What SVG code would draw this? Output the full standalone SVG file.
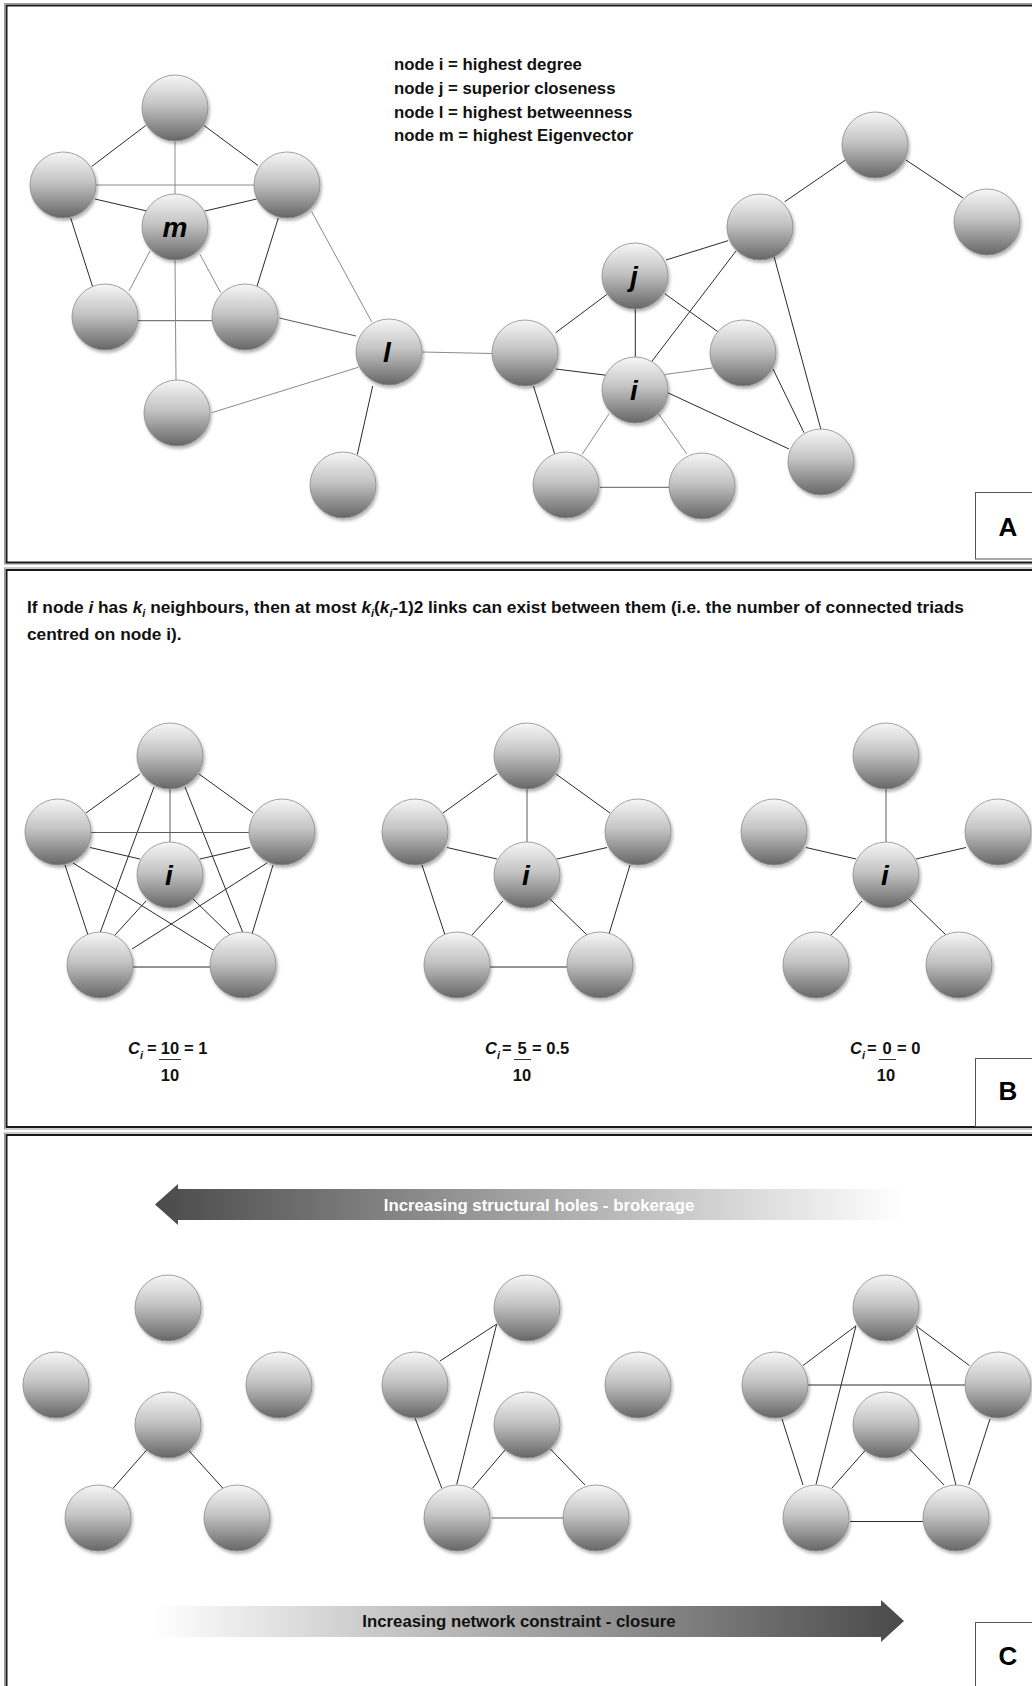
<svg xmlns="http://www.w3.org/2000/svg" width="1032" height="1686" viewBox="0 0 1032 1686">
<style>
.pan{fill:none;stroke:#1a1a1a;stroke-width:2}
.pan2{fill:none;stroke:#9a9a9a;stroke-width:1}
.n{fill:url(#ng);stroke:#8c8c8c;stroke-width:0.8;filter:url(#sh)}
.e{stroke:#2a2a2a;stroke-width:1;fill:none}
.g{stroke:#8a8a8a;stroke-width:1;fill:none}
.m{stroke:#5a5a5a;stroke-width:1;fill:none}
.lbl{font-family:"Liberation Sans",Arial,sans-serif;font-weight:bold;font-style:italic;font-size:28px;text-anchor:middle;fill:#000}
.t{font-family:"Liberation Sans",Arial,sans-serif;font-weight:bold;font-size:16.8px;fill:#111}
.tb{font-size:17.3px}
.f{font-family:"Liberation Sans",Arial,sans-serif;font-weight:bold;font-size:16.5px;fill:#111}
.fm{text-anchor:middle}
.it{font-style:italic}
.sub{font-size:11px;font-style:italic}
.box{fill:#fff;stroke:#555;stroke-width:1}
.bl{font-family:"Liberation Sans",Arial,sans-serif;font-weight:bold;font-size:26px;text-anchor:middle;fill:#000}
</style>
<defs>
<linearGradient id="ng" x1="0" y1="0" x2="0" y2="1">
<stop offset="0" stop-color="#f6f6f6"/>
<stop offset="0.45" stop-color="#c4c4c4"/>
<stop offset="1" stop-color="#666"/>
</linearGradient>
<filter id="sh" x="-30%" y="-30%" width="160%" height="160%">
<feDropShadow dx="1.5" dy="2.5" stdDeviation="1.8" flood-color="#000" flood-opacity="0.3"/>
</filter>
<linearGradient id="ga1" gradientUnits="userSpaceOnUse" x1="155" y1="0" x2="903" y2="0">
<stop offset="0" stop-color="#4a4a4a"/>
<stop offset="1" stop-color="#ffffff"/>
</linearGradient>
<linearGradient id="ga2" gradientUnits="userSpaceOnUse" x1="153" y1="0" x2="904" y2="0">
<stop offset="0" stop-color="#ffffff"/>
<stop offset="1" stop-color="#4a4a4a"/>
</linearGradient>
</defs>
<rect width="1032" height="1686" fill="#fff"/>

<g id="panels">
<rect class="pan2" x="4.5" y="3.5" width="1100" height="560.5"/>
<rect class="pan" x="6.5" y="5.5" width="1100" height="557"/>
<rect class="pan2" x="4.5" y="568" width="1100" height="561"/>
<rect class="pan" x="6.5" y="570" width="1100" height="557"/>
<rect class="pan2" x="4.5" y="1133" width="1100" height="600"/>
<rect class="pan" x="6.5" y="1135" width="1100" height="600"/>
</g>

<g id="connectors">
<!-- panel A left cluster -->
<line class="e" x1="91.7" y1="166.5" x2="145.7" y2="125.5"/>
<line class="e" x1="204" y1="125.5" x2="258" y2="165.5"/>
<line class="g" x1="175" y1="142" x2="175" y2="194"/>
<line class="g" x1="96" y1="185" x2="254" y2="185"/>
<line class="e" x1="95" y1="199" x2="146.7" y2="211"/>
<line class="e" x1="256.7" y1="199" x2="205" y2="211"/>
<line class="e" x1="70.7" y1="218" x2="92.7" y2="287"/>
<line class="e" x1="278.3" y1="218" x2="256.7" y2="287.3"/>
<line class="g" x1="150" y1="251" x2="129" y2="291"/>
<line class="g" x1="200" y1="254.5" x2="220.7" y2="292.7"/>
<line class="m" x1="138" y1="320.7" x2="212" y2="320.7"/>
<line class="g" x1="175" y1="260" x2="176" y2="380"/>
<line class="g" x1="311.7" y1="211.6" x2="371.7" y2="321.8"/>
<line class="m" x1="279.3" y1="318" x2="356" y2="336"/>
<line class="g" x1="211.7" y1="412.7" x2="358.3" y2="367.3"/>
<line class="e" x1="372.7" y1="386" x2="357.3" y2="454.5"/>
<line class="g" x1="422" y1="352" x2="492" y2="353.5"/>
<!-- panel A right cluster -->
<line class="e" x1="555.7" y1="332.7" x2="606.8" y2="294.5"/>
<line class="e" x1="555.7" y1="369" x2="606.8" y2="375.3"/>
<line class="e" x1="533.5" y1="386" x2="554.6" y2="453.8"/>
<line class="e" x1="635.3" y1="309" x2="635.3" y2="357"/>
<line class="e" x1="666" y1="260" x2="728" y2="240.7"/>
<line class="e" x1="664.9" y1="293.8" x2="717.7" y2="331.6"/>
<line class="e" x1="651.5" y1="361.8" x2="736" y2="251"/>
<line class="g" x1="664.9" y1="374.5" x2="712.4" y2="368"/>
<line class="e" x1="667.7" y1="392.7" x2="789" y2="449"/>
<line class="g" x1="609" y1="413.8" x2="582" y2="454.5"/>
<line class="g" x1="658.5" y1="413.8" x2="686.7" y2="453.8"/>
<line class="m" x1="599.7" y1="487.3" x2="669" y2="487.3"/>
<line class="e" x1="784.6" y1="201.8" x2="845.5" y2="160"/>
<line class="e" x1="774" y1="256.4" x2="820.8" y2="429"/>
<line class="e" x1="773" y1="369" x2="804" y2="432.7"/>
<line class="e" x1="906" y1="160" x2="963" y2="198"/>
<!-- panel B graph 1 (complete) -->
<line class="e" x1="140" y1="774" x2="86" y2="813"/>
<line class="e" x1="199" y1="774" x2="253" y2="813"/>
<line class="m" x1="170" y1="789" x2="170" y2="842"/>
<line class="e" x1="154" y1="787" x2="100" y2="933"/>
<line class="e" x1="185" y1="787" x2="243" y2="933"/>
<line class="m" x1="91" y1="832.5" x2="249" y2="832.5"/>
<line class="e" x1="90" y1="847.5" x2="140" y2="859"/>
<line class="e" x1="250" y1="847.5" x2="200" y2="859"/>
<line class="e" x1="65" y1="865" x2="88" y2="935"/>
<line class="e" x1="273" y1="865" x2="252" y2="934"/>
<line class="e" x1="73" y1="863" x2="215" y2="951"/>
<line class="e" x1="267" y1="863" x2="132" y2="949"/>
<line class="e" x1="146" y1="901" x2="115" y2="935"/>
<line class="e" x1="193" y1="899" x2="230" y2="935"/>
<line class="e" x1="133" y1="967" x2="210" y2="967"/>
<!-- panel B graph 2 -->
<line class="e" x1="497" y1="774" x2="443" y2="813"/>
<line class="e" x1="556" y1="774" x2="610" y2="813"/>
<line class="m" x1="527" y1="789" x2="527" y2="842"/>
<line class="e" x1="447" y1="847.5" x2="497" y2="859"/>
<line class="e" x1="607" y1="847.5" x2="557" y2="859"/>
<line class="e" x1="422" y1="865" x2="445" y2="935"/>
<line class="e" x1="630" y1="865" x2="609" y2="934"/>
<line class="e" x1="503" y1="901" x2="472" y2="935"/>
<line class="e" x1="550" y1="899" x2="587" y2="935"/>
<line class="e" x1="490" y1="967" x2="567" y2="967"/>
<!-- panel B graph 3 -->
<line class="m" x1="886" y1="789" x2="886" y2="842"/>
<line class="e" x1="806" y1="847.5" x2="856" y2="859"/>
<line class="e" x1="966" y1="847.5" x2="916" y2="859"/>
<line class="e" x1="862" y1="901" x2="831" y2="935"/>
<line class="e" x1="909" y1="899" x2="946" y2="935"/>
<!-- panel C graph 1 -->
<line class="e" x1="146.7" y1="1450" x2="113.3" y2="1488"/>
<line class="e" x1="188.3" y1="1450" x2="222.7" y2="1488"/>
<!-- panel C graph 2 -->
<line class="e" x1="440" y1="1361" x2="496.7" y2="1324"/>
<line class="e" x1="496.7" y1="1324" x2="456.7" y2="1484.6"/>
<line class="e" x1="415" y1="1418" x2="441.7" y2="1488"/>
<line class="e" x1="505" y1="1450" x2="472.7" y2="1488"/>
<line class="e" x1="550.4" y1="1449" x2="585" y2="1485"/>
<line class="m" x1="491.7" y1="1518" x2="563.8" y2="1518"/>
<!-- panel C graph 3 -->
<line class="e" x1="856" y1="1325.8" x2="803" y2="1365.5"/>
<line class="e" x1="916" y1="1325.8" x2="969.4" y2="1365.5"/>
<line class="e" x1="856" y1="1325.8" x2="816" y2="1484.6"/>
<line class="e" x1="916.6" y1="1327.6" x2="956" y2="1485.3"/>
<line class="e" x1="808" y1="1385" x2="965" y2="1385"/>
<line class="e" x1="782" y1="1419" x2="803" y2="1485"/>
<line class="e" x1="990" y1="1419" x2="968.7" y2="1485"/>
<line class="e" x1="865.6" y1="1450" x2="832" y2="1488"/>
<line class="e" x1="909.6" y1="1449" x2="944" y2="1485"/>
<line class="e" x1="850" y1="1521.5" x2="923" y2="1521.5"/>
</g>

<!-- Panel A nodes -->
<g id="a-top"><circle class="n" cx="175" cy="108" r="33"/></g>
<g id="a-left"><circle class="n" cx="63" cy="185" r="33"/></g>
<g id="a-right"><circle class="n" cx="287" cy="185" r="33"/></g>
<g id="node-m"><circle class="n" cx="175" cy="227" r="33"/><text class="lbl" x="175" y="237">m</text></g>
<g id="a-lowleft"><circle class="n" cx="105" cy="317" r="33"/></g>
<g id="a-lowright"><circle class="n" cx="245" cy="317" r="33"/></g>
<g id="a-bottom"><circle class="n" cx="177" cy="413" r="33"/></g>
<g id="node-l"><circle class="n" cx="389" cy="352" r="33"/><text class="lbl" x="387" y="362">l</text></g>
<g id="a-lbottom"><circle class="n" cx="343" cy="485" r="33"/></g>
<g id="a-jleft"><circle class="n" cx="525" cy="353" r="33"/></g>
<g id="node-j"><circle class="n" cx="635" cy="276" r="33"/><text class="lbl" x="634" y="286">j</text></g>
<g id="node-i"><circle class="n" cx="635" cy="390" r="33"/><text class="lbl" x="634" y="400">i</text></g>
<g id="a-iright"><circle class="n" cx="743" cy="353" r="33"/></g>
<g id="a-upper"><circle class="n" cx="760" cy="227" r="33"/></g>
<g id="a-top2"><circle class="n" cx="875" cy="145" r="33"/></g>
<g id="a-farright"><circle class="n" cx="987" cy="222" r="33"/></g>
<g id="a-ibl"><circle class="n" cx="566" cy="485" r="33"/></g>
<g id="a-ibr"><circle class="n" cx="702" cy="486" r="33"/></g>
<g id="a-farlow"><circle class="n" cx="821" cy="462" r="33"/></g>

<g id="legend">
<text class="t" x="394" y="70">node i = highest degree</text>
<text class="t" x="394" y="94">node j = superior closeness</text>
<text class="t" x="394" y="118">node l = highest betweenness</text>
<text class="t" x="394" y="141">node m = highest Eigenvector</text>
</g>
<g id="label-a"><rect class="box" x="975.5" y="492.5" width="80" height="66.5"/><text class="bl" x="1008" y="536">A</text></g>

<!-- Panel B -->
<g id="b-text">
<text class="t tb" x="27" y="613">If node <tspan class="it">i</tspan> has <tspan class="it">k</tspan><tspan class="sub" dy="4">i</tspan><tspan dy="-4"> neighbours, then at most </tspan><tspan class="it">k</tspan><tspan class="sub" dy="4">i</tspan><tspan dy="-4">(</tspan><tspan class="it">k</tspan><tspan class="sub" dy="4">i</tspan><tspan dy="-4">-1)2 links can exist between them (i.e. the number of connected triads</tspan></text>
<text class="t tb" x="27" y="640">centred on node i).</text>
</g>
<g id="b1-top"><circle class="n" cx="170" cy="756" r="33"/></g>
<g id="b1-left"><circle class="n" cx="58" cy="832" r="33"/></g>
<g id="b1-right"><circle class="n" cx="282" cy="832" r="33"/></g>
<g id="b1-i"><circle class="n" cx="170" cy="875" r="33"/><text class="lbl" x="169" y="885">i</text></g>
<g id="b1-bl"><circle class="n" cx="100" cy="965" r="33"/></g>
<g id="b1-br"><circle class="n" cx="243" cy="965" r="33"/></g>

<g id="b2-top"><circle class="n" cx="527" cy="756" r="33"/></g>
<g id="b2-left"><circle class="n" cx="415" cy="832" r="33"/></g>
<g id="b2-right"><circle class="n" cx="638" cy="832" r="33"/></g>
<g id="b2-i"><circle class="n" cx="527" cy="875" r="33"/><text class="lbl" x="526" y="885">i</text></g>
<g id="b2-bl"><circle class="n" cx="457" cy="965" r="33"/></g>
<g id="b2-br"><circle class="n" cx="600" cy="965" r="33"/></g>

<g id="b3-top"><circle class="n" cx="886" cy="756" r="33"/></g>
<g id="b3-left"><circle class="n" cx="774" cy="832" r="33"/></g>
<g id="b3-right"><circle class="n" cx="998" cy="832" r="33"/></g>
<g id="b3-i"><circle class="n" cx="886" cy="875" r="33"/><text class="lbl" x="885" y="885">i</text></g>
<g id="b3-bl"><circle class="n" cx="816" cy="965" r="33"/></g>
<g id="b3-br"><circle class="n" cx="959" cy="965" r="33"/></g>

<g id="formula-1" class="f">
<text x="128" y="1054"><tspan class="it">C</tspan></text>
<text class="sub" x="140" y="1059">i</text>
<text x="147" y="1054">=</text>
<text class="fm" x="170" y="1054">10</text>
<line x1="159" y1="1059.5" x2="181" y2="1059.5" stroke="#333" stroke-width="1"/>
<text x="184" y="1054">= 1</text>
<text class="fm" x="170" y="1081">10</text>
</g>
<g id="formula-2" class="f">
<text x="485" y="1054"><tspan class="it">C</tspan></text>
<text class="sub" x="497" y="1059">i</text>
<text x="502" y="1054">=</text>
<text class="fm" x="522" y="1054">5</text>
<line x1="514" y1="1059.5" x2="531" y2="1059.5" stroke="#333" stroke-width="1"/>
<text x="532" y="1054">= 0.5</text>
<text class="fm" x="522" y="1081">10</text>
</g>
<g id="formula-3" class="f">
<text x="850" y="1054"><tspan class="it">C</tspan></text>
<text class="sub" x="862" y="1059">i</text>
<text x="867" y="1054">=</text>
<text class="fm" x="887" y="1054">0</text>
<line x1="879" y1="1059.5" x2="896" y2="1059.5" stroke="#333" stroke-width="1"/>
<text x="897" y="1054">= 0</text>
<text class="fm" x="886" y="1081">10</text>
</g>
<g id="label-b"><rect class="box" x="975.5" y="1058.5" width="80" height="68"/><text class="bl" x="1008" y="1100">B</text></g>

<!-- Panel C -->
<g id="arrow-brokerage">
<polygon points="155,1204.5 178,1184 178,1189 903,1189 903,1220 178,1220 178,1225" fill="url(#ga1)"/>
<text class="t" x="539" y="1211" text-anchor="middle" style="fill:#fff">Increasing structural holes - brokerage</text>
</g>
<g id="arrow-closure">
<polygon points="153,1606 881,1606 881,1600 904,1621 881,1642 881,1637 153,1637" fill="url(#ga2)"/>
<text class="t" x="519" y="1627" text-anchor="middle">Increasing network constraint - closure</text>
</g>

<g id="c1-top"><circle class="n" cx="168" cy="1308" r="33"/></g>
<g id="c1-left"><circle class="n" cx="56" cy="1385" r="33"/></g>
<g id="c1-right"><circle class="n" cx="279" cy="1385" r="33"/></g>
<g id="c1-center"><circle class="n" cx="168" cy="1425" r="33"/></g>
<g id="c1-bl"><circle class="n" cx="98" cy="1518" r="33"/></g>
<g id="c1-br"><circle class="n" cx="237" cy="1518" r="33"/></g>

<g id="c2-top"><circle class="n" cx="527" cy="1308" r="33"/></g>
<g id="c2-left"><circle class="n" cx="415" cy="1385" r="33"/></g>
<g id="c2-right"><circle class="n" cx="638" cy="1385" r="33"/></g>
<g id="c2-center"><circle class="n" cx="527" cy="1425" r="33"/></g>
<g id="c2-bl"><circle class="n" cx="457" cy="1518" r="33"/></g>
<g id="c2-br"><circle class="n" cx="596" cy="1518" r="33"/></g>

<g id="c3-top"><circle class="n" cx="886" cy="1308" r="33"/></g>
<g id="c3-left"><circle class="n" cx="775" cy="1385" r="33"/></g>
<g id="c3-right"><circle class="n" cx="998" cy="1385" r="33"/></g>
<g id="c3-center"><circle class="n" cx="886" cy="1425" r="33"/></g>
<g id="c3-bl"><circle class="n" cx="816" cy="1518" r="33"/></g>
<g id="c3-br"><circle class="n" cx="956" cy="1518" r="33"/></g>

<g id="label-c"><rect class="box" x="975.5" y="1622.5" width="80" height="80"/><text class="bl" x="1008" y="1665">C</text></g>
</svg>
